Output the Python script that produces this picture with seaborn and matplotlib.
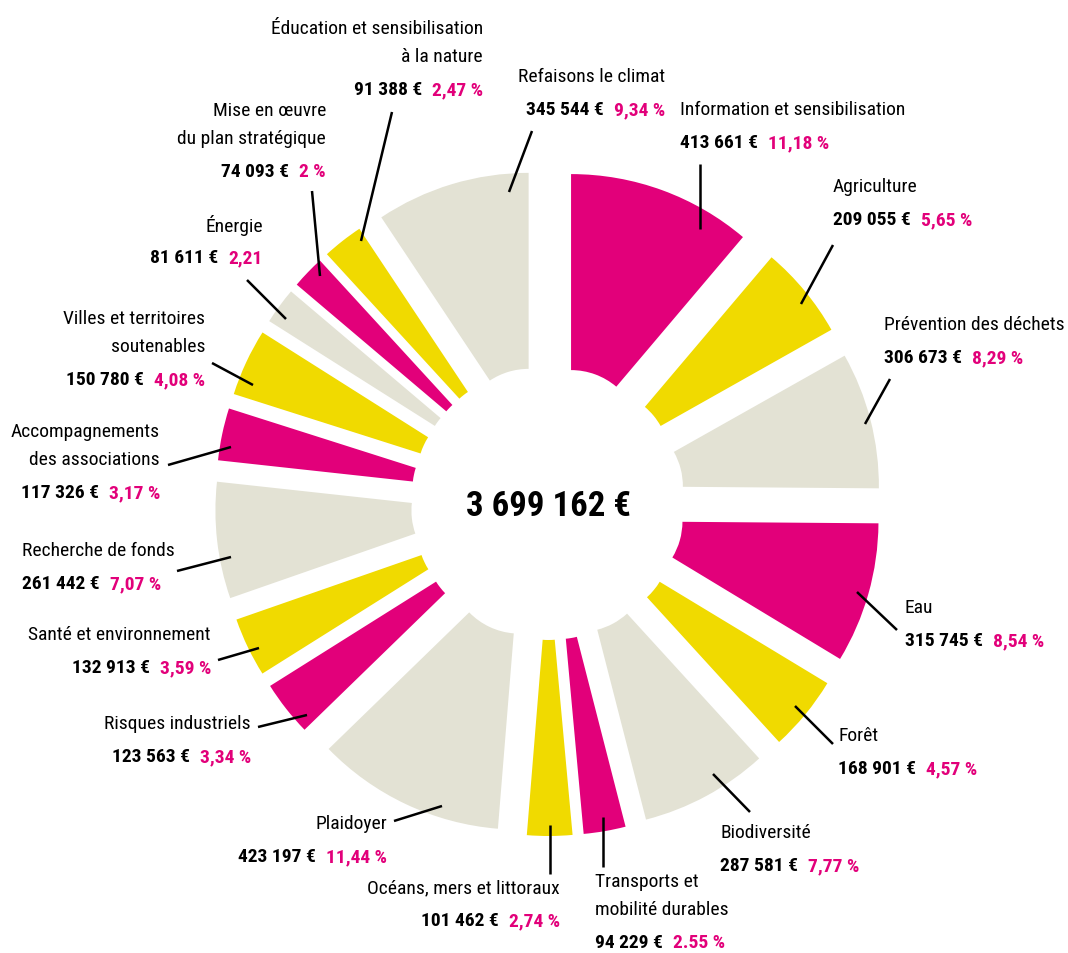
import matplotlib
matplotlib.use("Agg")
import matplotlib.pyplot as plt
from matplotlib import font_manager as fm
import seaborn as sns

# --- data -------------------------------------------------------------------
categories = [
    "Information et sensibilisation", "Agriculture", "Prévention des déchets",
    "Eau", "Forêt", "Biodiversité", "Transports et\nmobilité durables",
    "Océans, mers et littoraux", "Plaidoyer", "Risques industriels",
    "Santé et environnement", "Recherche de fonds",
    "Accompagnements\ndes associations", "Villes et territoires\nsoutenables",
    "Énergie", "Mise en œuvre\ndu plan stratégique",
    "Éducation et sensibilisation\nà la nature", "Refaisons le climat",
]
amounts = [413661, 209055, 306673, 315745, 168901, 287581, 94229, 101462,
           423197, 123563, 132913, 261442, 117326, 150780, 81611, 74093,
           91388, 345544]
pct_labels = ["11,18 %", "5,65 %", "8,29 %", "8,54 %", "4,57 %", "7,77 %",
              "2.55 %", "2,74 %", "11,44 %", "3,34 %", "3,59 %", "7,07 %",
              "3,17 %", "4,08 %", "2,21", "2 %", "2,47 %", "9,34 %"]
total_label = "3 699 162 €"

# --- layout (image pixels, y downwards) -------------------------------------
# label anchor: x, y of the amount line, alignment
label_pos = [
    (680, 143, "left"), (833, 220, "left"), (884, 358, "left"),
    (905, 641, "left"), (838, 769, "left"), (720, 866, "left"),
    (595, 943, "left"), (560, 921, "right"), (387, 857, "right"),
    (251, 757, "right"), (211, 668, "right"), (22, 584, "left"),
    (160, 493, "right"), (205, 380, "right"), (263, 258, "right"),
    (326, 172, "right"), (483, 90, "right"), (665, 110, "right"),
]
leaders = [
    ((700, 165), (700, 230)), ((833, 246), (801, 305)), ((890, 380), (865, 425)),
    ((897, 631), (857, 593)), ((833, 745), (795, 707)), ((750, 813), (713, 775)),
    ((603, 868), (603, 818)), ((550, 875), (550, 826)), ((394, 822), (442, 807)),
    ((258, 728), (307, 716)), ((218, 661), (259, 649)), ((177, 572), (231, 558)),
    ((168, 466), (231, 448)), ((212, 364), (253, 386)), ((247, 281), (286, 320)),
    ((312, 192), (320, 277)), ((392, 113), (361, 242)), ((532, 132), (509, 193)),
]

MAGENTA = "#E2007A"
YELLOW = "#F0DA00"
GREY = "#E3E2D4"
palette = sns.color_palette([MAGENTA, YELLOW, GREY])
colors = [palette[i % 3] for i in range(len(amounts))]

sns.set_theme(style="white")
available = {f.name for f in fm.fontManager.ttflist}
candidates = ["Liberation Sans Narrow", "DejaVu Sans Condensed", "Roboto Condensed",
              "Liberation Sans", "DejaVu Sans"]
FONT = [f for f in candidates if f in available][0]
plt.rcParams["font.family"] = [FONT, "DejaVu Sans"]

W, H = 1068, 954
fig = plt.figure(figsize=(W / 100, H / 100), dpi=100)
ax = fig.add_axes([0, 0, 1, 1])

cx, cy = 548, 504
R_OUT, R_IN, SHIFT = 266, 70, 67
ax.pie(amounts, colors=colors, startangle=-90, counterclock=True,
       radius=R_OUT, center=(cx, cy), explode=[SHIFT] * len(amounts),
       wedgeprops=dict(width=R_OUT - R_IN, linewidth=0))

ax.set_xlim(0, W)
ax.set_ylim(H, 0)
ax.set_aspect("auto")
ax.axis("off")

ax.text(cx, cy + 2, total_label, ha="center", va="center",
        fontsize=25, fontweight="bold", color="black")

renderer = fig.canvas.get_renderer()
NAME_FS, VAL_FS = 14, 14
GAP = 10


def draw_label(i):
    x, yv, ha = label_pos[i]
    amount_txt = f"{amounts[i]:,}".replace(",", " ") + " €"
    lines = categories[i].split("\n")
    for k, line in enumerate(reversed(lines)):
        ax.text(x, yv - 33 - 28 * k, line, ha=ha, va="center",
                fontsize=NAME_FS, color="black")
    if ha == "left":
        t = ax.text(x, yv, amount_txt, ha="left", va="center",
                    fontsize=VAL_FS, fontweight="bold", color="black")
        bb = t.get_window_extent(renderer)
        x1 = ax.transData.inverted().transform((bb.x1, 0))[0]
        ax.text(x1 + GAP, yv, pct_labels[i], ha="left", va="center",
                fontsize=VAL_FS, fontweight="bold", color=MAGENTA)
    else:
        t = ax.text(x, yv, pct_labels[i], ha="right", va="center",
                    fontsize=VAL_FS, fontweight="bold", color=MAGENTA)
        bb = t.get_window_extent(renderer)
        x0 = ax.transData.inverted().transform((bb.x0, 0))[0]
        ax.text(x0 - GAP, yv, amount_txt, ha="right", va="center",
                fontsize=VAL_FS, fontweight="bold", color="black")


for i in range(len(categories)):
    draw_label(i)
    (x0, y0), (x1, y1) = leaders[i]
    ax.plot([x0, x1], [y0, y1], color="black", lw=1.8, solid_capstyle="butt")

fig.savefig("out.png", dpi=100, facecolor="white")
